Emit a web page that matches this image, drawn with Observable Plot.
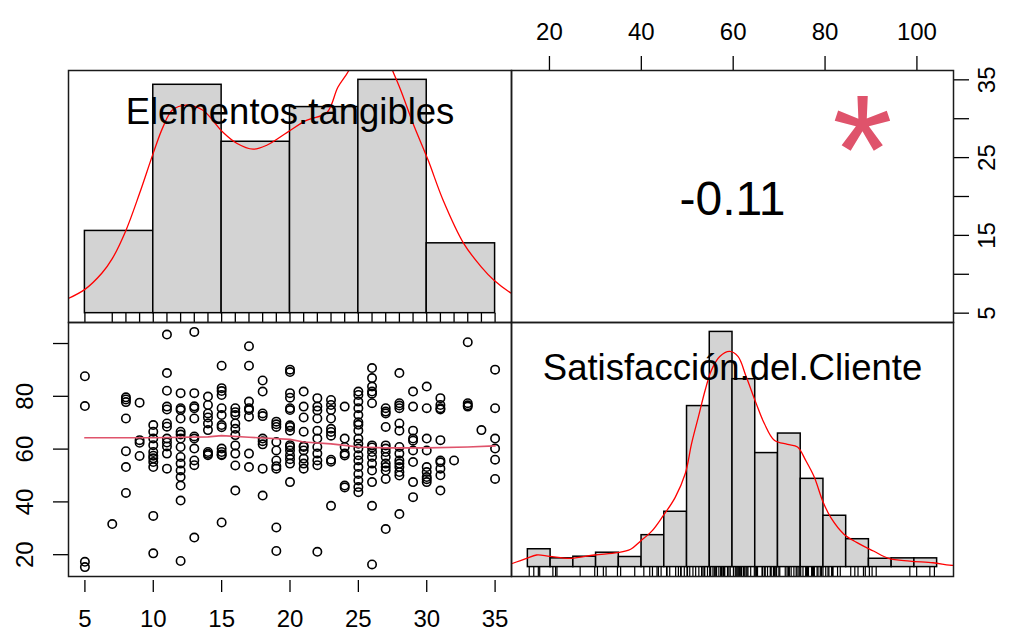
<!DOCTYPE html>
<html><head><meta charset="utf-8">
<script src="https://cdn.jsdelivr.net/npm/d3@7"></script>
<script src="https://cdn.jsdelivr.net/npm/@observablehq/plot@0.6"></script>
<style>
body{margin:0;background:#fff;}
#chart{position:relative;width:1010px;height:633px;overflow:hidden;background:#fff;}
#chart svg{position:absolute;overflow:visible;background:transparent;}
</style></head><body><div id="chart"></div>
<script>
// ---------- data ----------
const varLabels = ["Elementos.tangibles", "Satisfacción.del.Cliente"];
const corrText = "-0.11";
const signifText = "*";

const tangiblesBreaks = [5, 10, 15, 20, 25, 30, 35];
const tangiblesDensity = [0.0166, 0.0461, 0.0346, 0.0416, 0.0471, 0.0141];
const tangiblesCurveX = [3.5, 5.0, 6.25, 7.0, 8.0, 9.0, 10.0, 10.7, 11.4, 12.4, 13.6, 15.1, 16.1, 17.3, 18.3, 19.8, 21.2, 22.7, 23.5, 24.3, 25.0, 25.9, 26.8, 27.5, 28.1, 29.0, 30.1, 31.2, 32.7, 34.0, 34.9, 36.2, 36.5];
const tangiblesCurveY = [0.0026, 0.0048, 0.0081, 0.011, 0.0167, 0.0242, 0.0323, 0.0375, 0.0410, 0.0420, 0.0410, 0.0365, 0.0343, 0.0331, 0.0339, 0.0365, 0.0389, 0.0405, 0.0456, 0.0490, 0.0540, 0.0570, 0.0540, 0.0490, 0.0450, 0.0383, 0.0309, 0.0228, 0.0141, 0.0093, 0.0067, 0.0040, 0.0036];

const satisfBreaks = [15, 20, 25, 30, 35, 40, 45, 50, 55, 60, 65, 70, 75, 80, 85, 90, 95, 100, 105];
const satisfDensity = [0.00304, 0.00149, 0.00177, 0.00245, 0.00172, 0.00544, 0.00943, 0.02744, 0.04008, 0.03202, 0.01943, 0.02276, 0.01504, 0.00875, 0.00475, 0.00142, 0.00149, 0.00149];
const satisfCurveX = [11.4, 14.7, 16.9, 19.8, 24.5, 29.6, 34.7, 37.6, 39.8, 42.3, 44.5, 47.4, 49.6, 51.0, 52.5, 54.0, 55.4, 57.2, 59.4, 61.2, 63.0, 65.2, 67.0, 69.2, 72.1, 74.3, 76.1, 78.0, 79.8, 81.6, 84.5, 87.4, 91.0, 94.3, 99.0, 104.1, 107.7, 109];
const satisfCurveY = [0.00057, 0.00149, 0.00206, 0.00184, 0.00149, 0.00206, 0.00245, 0.00304, 0.00446, 0.00617, 0.00846, 0.01189, 0.0159, 0.02104, 0.0256, 0.03018, 0.03361, 0.0359, 0.03675, 0.0359, 0.03247, 0.0279, 0.02447, 0.02161, 0.02092, 0.02046, 0.01818, 0.01531, 0.01132, 0.00846, 0.00561, 0.00417, 0.00274, 0.00149, 0.00103, 0.00074, 0.00034, 0.0003];

// Satisfacción values for each Elementos tangibles value (scatter points)
const satisfByTangibles = [
  [5, [87.6, 76.3, 17.3, 15.3]],
  [7, [31.6]],
  [8, [79.6, 78.8, 77.8, 71.6, 59.2, 53.2, 43.4]],
  [9, [77.6, 63.4, 62.4, 57.4]],
  [10, [69.1, 66.6, 64.0, 61.5, 58.9, 57.5, 56.5, 55.1, 53.2, 34.7, 20.5]],
  [11, [103.4, 88.8, 82.1, 76.1, 75.0, 69.7, 68.5, 64.0, 62.5, 61.0, 58.3, 52.6]],
  [12, [81.2, 75.5, 74.8, 71.6, 66.6, 65.5, 64.0, 60.8, 57.0, 54.5, 51.9, 49.4, 46.2, 40.5, 17.6]],
  [13, [104.4, 81.2, 76.2, 75.5, 71.6, 64.8, 64.0, 60.2, 55.7, 53.9, 26.5]],
  [14, [79.9, 76.7, 73.5, 72.0, 69.7, 67.2, 58.9, 58.2, 57.7]],
  [15, [91.6, 83.1, 82.0, 80.5, 75.5, 72.9, 69.1, 68.3, 60.2, 58.9, 58.0, 57.7, 32.2]],
  [16, [75.5, 74.0, 72.9, 69.7, 67.7, 65.3, 61.4, 58.3, 53.8, 44.3]],
  [17, [99.0, 91.6, 78.0, 75.5, 74.8, 72.3, 58.3, 53.2]],
  [18, [86.0, 81.8, 73.5, 72.5, 64.0, 63.0, 61.8, 52.6, 42.4]],
  [19, [70.4, 69.4, 68.4, 62.7, 59.5, 55.7, 53.5, 52.6, 30.3, 21.4]],
  [20, [90.1, 89.2, 81.2, 79.5, 75.5, 74.8, 69.0, 68.4, 67.0, 61.5, 60.8, 59.5, 57.7, 56.2, 54.5, 47.5]],
  [21, [81.8, 76.1, 72.0, 66.6, 61.2, 60.8, 59.5, 56.4, 54.5, 52.6]],
  [22, [79.3, 76.1, 74.6, 71.6, 67.0, 64.0, 60.8, 58.3, 55.7, 53.9, 21.1]],
  [23, [78.6, 76.7, 74.8, 71.6, 67.7, 66.5, 65.1, 56.0, 55.2, 38.5]],
  [24, [76.1, 64.0, 60.8, 58.3, 57.6, 46.2, 45.5]],
  [25, [81.8, 80.5, 78.0, 75.5, 72.9, 70.2, 69.2, 67.0, 64.0, 62.0, 60.2, 57.7, 55.7, 53.2, 50.6, 48.1, 45.6, 43.7]],
  [26, [90.7, 86.9, 83.7, 81.8, 81.0, 77.4, 61.4, 60.6, 58.9, 57.0, 54.5, 51.9, 47.5, 38.5, 16.3]],
  [27, [75.5, 74.2, 73.5, 68.4, 61.4, 60.2, 58.9, 57.0, 54.5, 53.2, 51.9, 48.7, 29.7]],
  [28, [88.8, 77.4, 76.5, 75.5, 69.7, 67.0, 60.8, 58.3, 55.7, 54.5, 53.2, 51.3, 50.0, 35.4]],
  [29, [81.8, 76.1, 67.0, 64.0, 63.2, 59.5, 55.1, 47.5, 41.8]],
  [30, [83.7, 75.5, 64.0, 59.5, 53.2, 51.3, 49.4, 48.6, 47.5]],
  [31, [79.3, 76.7, 75.5, 75.0, 63.4, 55.7, 55.0, 52.6, 50.1, 44.3]],
  [32, [55.7]],
  [33, [100.5, 77.4, 76.6, 76.1]],
  [34, [67.2]],
  [35, [90.1, 75.5, 64.0, 60.2, 56.0, 48.7]]
];

const lowessX = [5, 10, 14, 15, 17, 20, 21, 23, 24, 25, 27, 30, 33, 35];
const lowessY = [64.3, 64.3, 64.6, 65.1, 64.5, 63.7, 62.7, 62.0, 61.4, 60.8, 60.5, 60.5, 60.8, 61.2];

const tangiblesTicks = [5, 10, 15, 20, 25, 30, 35];
const tangiblesRightLabels = [35, 25, 15, 5];
const satisfTicks = [20, 40, 60, 80, 100];
const satisfLeftLabels = [20, 40, 60, 80];

// ---------- derived ----------
const FONT = "'Liberation Sans', Arial, Helvetica, sans-serif";
const ext = ([a, b]) => { const p = (b - a) * 0.04; return [a - p, b + p]; };
const scatter = satisfByTangibles.flatMap(([x, ys]) => ys.map(y => ({x, y})));
const tanDomain = ext(d3.extent(scatter, d => d.x));
const satDomain = ext(d3.extent(scatter, d => d.y));
const lowess = lowessX.map((x, i) => ({x, y: lowessY[i]}));
const tanBins = tangiblesDensity.map((d, i) => ({x1: tangiblesBreaks[i], x2: tangiblesBreaks[i + 1], y: d}));
const satBins = satisfDensity.map((d, i) => ({x1: satisfBreaks[i], x2: satisfBreaks[i + 1], y: d}));
const tanCurve = tangiblesCurveX.map((x, i) => ({x, y: tangiblesCurveY[i]}));
const satCurve = satisfCurveX.map((x, i) => ({x, y: satisfCurveY[i]}));
const tanRug = Array.from(new Set(scatter.map(d => d.x)));
const satRug = Array.from(new Set(scatter.map(d => d.y)));
const tanHistY = ext([0, d3.max(tangiblesDensity)]);
const satHistY = ext([0, d3.max(satisfDensity)]);
const FRAME = {stroke: "#1a1a1a", strokeWidth: 1.5};
const style = {fontFamily: FONT, background: "transparent", color: "black", overflow: "visible"};

const chart = document.getElementById("chart");
function place(svg, left, top) { svg.style.left = left + "px"; svg.style.top = top + "px"; chart.appendChild(svg); }

// Top-left: histogram of Elementos tangibles
place(Plot.plot({
  width: 511, height: 322, marginLeft: 68, marginTop: 70, marginRight: 0, marginBottom: 0,
  style,
  x: {domain: ext(d3.extent(tangiblesBreaks)), axis: null, label: null},
  y: {domain: tanHistY, axis: null, label: null},
  marks: [
    Plot.rect(tanBins, {x1: "x1", x2: "x2", y1: () => 0, y2: "y", fill: "#D3D3D3", stroke: "black", strokeWidth: 1.5}),
    Plot.ruleX(tanRug, {x: d => d, y1: () => tanHistY[0], y2: () => 0, stroke: "black", strokeWidth: 1.3}),
    Plot.line(tanCurve, {x: "x", y: "y", stroke: "#ff0000", strokeWidth: 1.3, clip: true, curve: "catmull-rom"}),
    Plot.text([varLabels[0]], {text: d => d, frameAnchor: "top", dy: 53, lineAnchor: "bottom", fontSize: 36.5, fill: "black"}),
    Plot.frame(FRAME)
  ]
}), 0, 0);

// Top-right: correlation
place(Plot.plot({
  width: 499, height: 322, marginLeft: 0, marginTop: 70, marginRight: 57, marginBottom: 0,
  style,
  x: {domain: satDomain, label: null},
  y: {domain: tanDomain, label: null},
  marks: [
    Plot.axisX({anchor: "top", ticks: satisfTicks, tickSize: 15, tickPadding: 16, fontSize: 24, strokeWidth: 1.3, label: null}),
    Plot.axisY({anchor: "right", ticks: tangiblesTicks, tickSize: 15, tickPadding: 9, fontSize: 24, tickRotate: -90, lineAnchor: "top", strokeWidth: 1.3, label: null,
      tickFormat: d => tangiblesRightLabels.includes(d) ? String(d) : ""}),
    Plot.text([corrText], {text: d => d, frameAnchor: "middle", lineAnchor: "bottom", dy: 18, fontSize: 48, fill: "black"}),
    Plot.text([signifText], {text: d => d, frameAnchor: "middle", lineAnchor: "bottom", dx: 130, dy: 6, fontSize: 155, fill: "#DF536B"}),
    Plot.frame(FRAME)
  ]
}), 511, 0);

// Bottom-left: scatter
place(Plot.plot({
  width: 511, height: 311, marginLeft: 68, marginTop: 0, marginRight: 0, marginBottom: 57,
  style,
  x: {domain: tanDomain, label: null},
  y: {domain: satDomain, label: null},
  marks: [
    Plot.dot(scatter, {x: "x", y: "y", r: 4.2, stroke: "black", strokeWidth: 1.6, fill: "none"}),
    Plot.line(lowess, {x: "x", y: "y", stroke: "#DF536B", strokeWidth: 1.7}),
    Plot.axisX({anchor: "bottom", ticks: tangiblesTicks, tickSize: 12, tickPadding: 17, fontSize: 24, dy: 4, strokeWidth: 1.3, label: null}),
    Plot.axisY({anchor: "left", ticks: satisfTicks, tickSize: 15, tickPadding: 21, fontSize: 24, tickRotate: -90, strokeWidth: 1.3, label: null,
      tickFormat: d => satisfLeftLabels.includes(d) ? String(d) : ""}),
    Plot.frame(FRAME)
  ]
}), 0, 322);

// Bottom-right: histogram of Satisfacción
place(Plot.plot({
  width: 442, height: 254, marginLeft: 0, marginTop: 0, marginRight: 0, marginBottom: 0,
  style,
  x: {domain: ext(d3.extent(satisfBreaks)), axis: null, label: null},
  y: {domain: satHistY, axis: null, label: null},
  marks: [
    Plot.rect(satBins, {x1: "x1", x2: "x2", y1: () => 0, y2: "y", fill: "#D3D3D3", stroke: "black", strokeWidth: 1.5}),
    Plot.ruleX(satRug, {x: d => d, y1: () => satHistY[0], y2: () => 0, stroke: "black", strokeWidth: 1.2}),
    Plot.line(satCurve, {x: "x", y: "y", stroke: "#ff0000", strokeWidth: 1.3, clip: true, curve: "catmull-rom"}),
    Plot.text([varLabels[1]], {text: d => d, frameAnchor: "top", dy: 57, lineAnchor: "bottom", fontSize: 36.5, fill: "black"}),
    Plot.frame(FRAME)
  ]
}), 511, 322);
</script></body></html>
